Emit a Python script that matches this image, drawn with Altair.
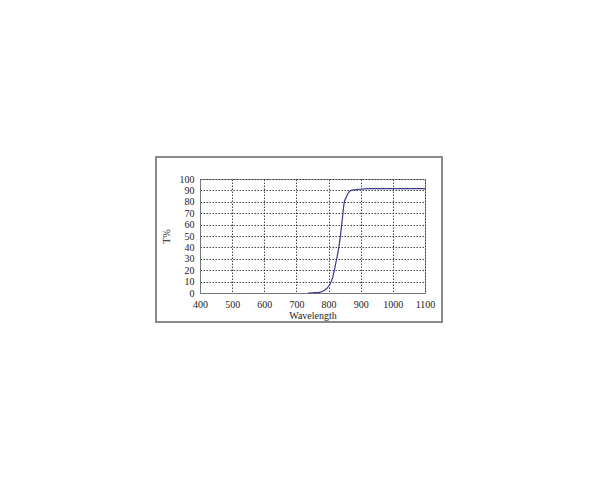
import altair as alt
import pandas as pd

wavelength = [400, 500, 600, 700, 736, 750, 772, 785, 792, 803, 813, 823, 834, 844, 849, 855, 860, 870, 880, 896, 927, 1000, 1100]
transmission = [0, 0, 0, 0, 0, 0.2, 0.6, 2, 3.5, 7, 14, 27, 44, 68, 80, 84, 87, 90, 90.5, 91, 91.5, 91.5, 91.5]

df = pd.DataFrame({"wl": wavelength, "t": transmission})
df = df[df["wl"] >= 736]

FONT = "Liberation Serif"

frame = alt.Chart(pd.DataFrame({"a": [0]})).mark_rect(
    fill="transparent", stroke="#8a8a8a", strokeWidth=2, clip=False
).encode(
    x=alt.value(-44), x2=alt.value(242), y=alt.value(-22), y2=alt.value(143)
)

line = alt.Chart(df).mark_line(color="#3a3a8c", strokeWidth=1.2, interpolate="monotone").encode(
    x=alt.X("wl:Q", scale=alt.Scale(domain=[400, 1100], nice=False),
            axis=alt.Axis(values=[400, 500, 600, 700, 800, 900, 1000, 1100], title="Wavelength",
                          format="d", titlePadding=1, labelPadding=6, labelOverlap=False,
                          labelFlush=False)),
    y=alt.Y("t:Q", scale=alt.Scale(domain=[0, 100], nice=False),
            axis=alt.Axis(values=list(range(0, 101, 10)), title="T%", format="d",
                          titlePadding=8, labelPadding=6, labelOverlap=False, labelFlush=False)),
)

chart = alt.layer(frame, line).properties(
    width=225, height=114,
    background="white",
    autosize=alt.AutoSizeParams(type="none"),
    padding={"left": 192, "top": 171, "right": 150, "bottom": 170},
).configure_view(
    stroke="#9a9a9a", strokeWidth=1
).configure_axis(
    grid=True, gridColor="#333333", gridDash=[1.5, 1.5], gridWidth=1, gridOpacity=0.9,
    domain=True, domainColor="#777777", ticks=False,
    labelFont=FONT, labelFontSize=10, labelColor="#222222",
    titleFont=FONT, titleFontSize=10, titleFontWeight="normal", titleColor="#222222",
)

chart.save("out.html", embed_options={"renderer": "svg", "actions": False})
